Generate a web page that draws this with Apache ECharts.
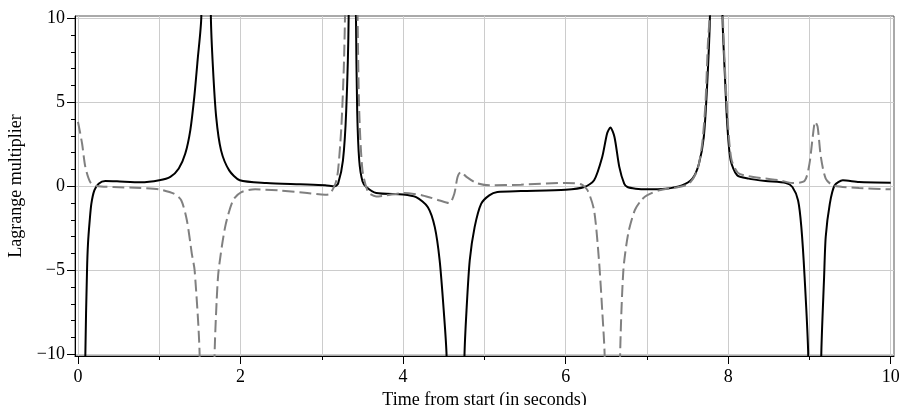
<!DOCTYPE html>
<html>
<head>
<meta charset="utf-8">
<script src="https://cdn.jsdelivr.net/npm/echarts@6/dist/echarts.min.js"></script>
<style>
  html, body { margin: 0; padding: 0; background: #fff; }
  #chart { width: 899px; height: 405px; }
</style>
</head>
<body>
<div id="chart"></div>
<script>
// solid black curve
var blackTime = [0.05, 0.09, 0.111, 0.123, 0.144, 0.164, 0.201, 0.254, 0.336, 0.48, 0.77, 1.0, 1.136, 1.24, 1.32, 1.382, 1.431, 1.472, 1.517,
  1.578, 1.635, 1.66, 1.70, 1.76, 1.86, 1.99, 2.32, 2.73, 3.04, 3.16, 3.2, 3.26, 3.30, 3.33,
  3.375, 3.42, 3.435, 3.46, 3.50, 3.547, 3.67, 4.0, 4.16, 4.305, 4.39, 4.45, 4.50, 4.535,
  4.645, 4.755, 4.78, 4.82, 4.88, 4.96, 5.06, 5.16, 5.45, 6.0, 6.23, 6.35, 6.45, 6.51, 6.55, 6.60, 6.66, 6.72, 6.76,
  6.86, 7.0, 7.23, 7.43, 7.56, 7.64, 7.70, 7.74, 7.775, 7.855, 7.93, 7.96, 7.99, 8.03, 8.11, 8.25, 8.46,
  8.71, 8.79, 8.86, 8.90, 8.94, 8.985, 9.065, 9.145, 9.18, 9.20, 9.25, 9.31, 9.41, 9.61, 10.0];
var blackValue = [-40, -10.1, -5.0, -3.4, -2.03, -1.04, -0.24, 0.16, 0.32, 0.3, 0.24, 0.36, 0.56, 1.06, 1.95, 3.35, 5.34, 7.53, 10.1,
  40, 10.1, 7.1, 4.13, 2.14, 0.95, 0.36, 0.2, 0.12, 0.06, 0.0, 0.16, 1.55, 4.5, 10.1,
  40, 10.1, 4.5, 1.55, 0.3, -0.04, -0.4, -0.48, -0.64, -1.24, -2.43, -4.42, -7.4, -10.1,
  -40, -10.1, -7.4, -4.4, -2.43, -1.04, -0.54, -0.34, -0.28, -0.2, -0.04, 0.36, 1.75, 3.15, 3.5, 2.95, 1.16, 0.16, -0.04,
  -0.14, -0.18, -0.14, 0.06, 0.46, 1.35, 2.95, 5.94, 10.1, 40, 10.1, 6.53, 3.55, 1.55, 0.66, 0.46, 0.32,
  0.2, -0.04, -0.84, -2.43, -5.4, -10.1, -40, -10.1, -5.4, -3.0, -1.04, 0.06, 0.36, 0.26, 0.22];

// dashed grey curve
var greyTime = [0.0, 0.05, 0.09, 0.15, 0.23, 0.44, 0.77, 1.0, 1.18, 1.27, 1.34, 1.40, 1.435, 1.496,
  1.59, 1.68, 1.706, 1.73, 1.81, 1.907, 2.01, 2.18, 2.46, 2.79, 3.04, 3.10, 3.17, 3.2, 3.24, 3.27, 3.285,
  3.365, 3.44, 3.46, 3.5, 3.57, 3.67, 3.79, 4.0, 4.24, 4.45, 4.57, 4.63, 4.67, 4.71, 4.78, 4.90, 5.06, 5.45, 6.0, 6.19,
  6.27, 6.35, 6.41, 6.45, 6.48, 6.575, 6.67, 6.71, 6.77, 6.85, 6.93, 7.0, 7.15, 7.39, 7.52, 7.62, 7.68, 7.72, 7.75, 7.77,
  7.85, 7.935, 7.965, 8.0, 8.04, 8.12, 8.25, 8.46, 8.63, 8.79, 8.94, 9.0, 9.04, 9.07, 9.10, 9.14, 9.20, 9.29, 9.61, 10.0];
var greyValue = [3.84, 2.55, 1.16, 0.26, 0.02, -0.04, -0.1, -0.18, -0.44, -0.83, -2.03, -4.0, -5.0, -9.96,
  -40, -10.1, -6.8, -5.0, -2.43, -0.83, -0.34, -0.18, -0.24, -0.38, -0.5, -0.45, 0.2, 0.96, 3.5, 7.0, 10.1,
  40, 10.1, 4.5, 0.96, -0.34, -0.6, -0.54, -0.4, -0.54, -0.84, -1.0, -0.44, 0.56, 0.86, 0.56, 0.2, 0.06, 0.1, 0.2, 0.12,
  -0.24, -1.43, -4.4, -7.4, -10.1, -40, -10.1, -5.0, -2.8, -1.43, -0.83, -0.54, -0.24, -0.04, 0.16, 0.96, 2.55, 4.94, 8.5, 10.1,
  40, 10.1, 6.5, 3.5, 1.6, 0.8, 0.6, 0.46, 0.36, 0.2, 0.32, 1.35, 2.95, 3.84, 3.55, 1.75, 0.46, 0.06, -0.1, -0.18];

var xMajorTicks = [0, 2, 4, 6, 8, 10];
var xMinorTicks = [0, 1, 2, 3, 4, 5, 6, 7, 8, 9, 10];
var yMajorTicks = [-10, -5, 0, 5, 10];
var yMinorTicks = [-10, -9, -8, -7, -6, -5, -4, -3, -2, -1, 0, 1, 2, 3, 4, 5, 6, 7, 8, 9, 10];

function zip(a, b) {
    var out = [];
    for (var i = 0; i < a.length; i++) out.push([a[i], b[i]]);
    return out;
}

var serif = 'Liberation Serif';
var labelStyle = { fontFamily: serif, fontSize: 18, color: '#000' };

function fmt(v) {
    return v < 0 ? '\u2212' + Math.abs(v) : String(v);
}

var chart = echarts.init(document.getElementById('chart'), null, { renderer: 'canvas' });

var option = {
    animation: false,
    backgroundColor: '#fff',
    grid: {
        left: 75, right: 5, top: 16, bottom: 49,
        outerBoundsMode: 'none', containLabel: false,
        show: true, borderColor: '#555', borderWidth: 1
    },
    xAxis: [
        {
            type: 'value', position: 'bottom', min: -0.037, max: 10.04,
            name: 'Time from start (in seconds)', nameLocation: 'middle', nameGap: 33,
            nameTextStyle: labelStyle,
            axisLine: { show: true, onZero: false, lineStyle: { color: '#000', width: 1 } },
            axisTick: { show: true, customValues: xMajorTicks, length: 8, lineStyle: { color: '#000' } },
            axisLabel: Object.assign({ customValues: xMajorTicks, margin: 12, formatter: fmt }, labelStyle),
            splitLine: { show: false }
        },
        {
            type: 'value', position: 'bottom', min: -0.037, max: 10.04,
            axisLine: { show: false, onZero: false },
            axisTick: { show: true, customValues: xMinorTicks, length: 4, lineStyle: { color: '#000' } },
            axisLabel: { show: false },
            splitLine: { show: true, lineStyle: { color: '#cccccc', width: 1 } }
        }
    ],
    yAxis: [
        {
            type: 'value', position: 'left', min: -10.1, max: 10.14,
            name: 'Lagrange multiplier', nameLocation: 'middle', nameGap: 50,
            nameTextStyle: labelStyle,
            axisLine: { show: true, onZero: false, lineStyle: { color: '#000', width: 1 } },
            axisTick: { show: true, customValues: yMajorTicks, length: 8, lineStyle: { color: '#000' } },
            axisLabel: Object.assign({ customValues: yMajorTicks, margin: 10, formatter: fmt }, labelStyle),
            splitLine: { show: true, lineStyle: { color: '#cccccc', width: 1 } }
        },
        {
            type: 'value', position: 'left', min: -10.1, max: 10.14,
            axisLine: { show: false, onZero: false },
            axisTick: { show: true, customValues: yMinorTicks, length: 4, lineStyle: { color: '#000' } },
            axisLabel: { show: false },
            splitLine: { show: false }
        }
    ],
    series: [
        {
            name: 'black', type: 'line', xAxisIndex: 0, yAxisIndex: 0,
            data: zip(blackTime, blackValue),
            showSymbol: false, smooth: 0.25, clip: true,
            lineStyle: { color: '#000', width: 2 }
        },
        {
            name: 'grey', type: 'line', xAxisIndex: 0, yAxisIndex: 0,
            data: zip(greyTime, greyValue),
            showSymbol: false, smooth: 0.25, clip: true,
            lineStyle: { color: '#808080', width: 2, type: [12, 5] }
        }
    ]
};
chart.setOption(option);
</script>
</body>
</html>
